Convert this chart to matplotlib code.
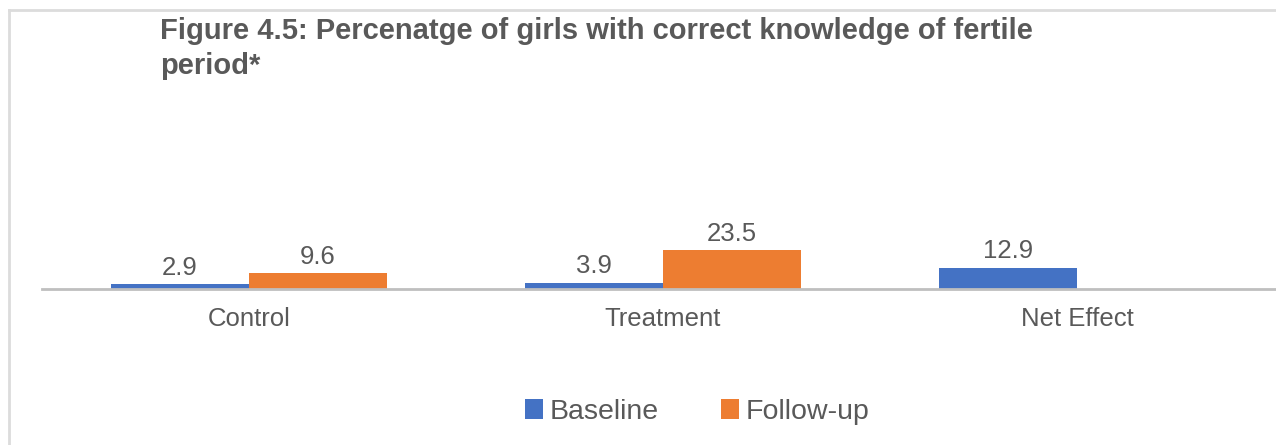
import matplotlib
matplotlib.use("Agg")
import matplotlib.pyplot as plt
import numpy as np
from matplotlib.lines import Line2D

categories = ["Control", "Treatment", "Net Effect"]
baseline = [2.9, 3.9, 12.9]
followup = [9.6, 23.5, np.nan]
series_names = ["Baseline", "Follow-up"]
title = "Figure 4.5: Percenatge of girls with correct knowledge of fertile\nperiod*"

BLUE = "#4472C4"
ORANGE = "#ED7D31"
TXT = "#595959"

plt.rcParams['font.family'] = ['Liberation Sans', 'DejaVu Sans']

W, H = 1276, 445
fig = plt.figure(figsize=(W / 100, H / 100), dpi=100)
fig.patch.set_facecolor("white")

# outer frame (top and left edges visible)
fig.add_artist(Line2D([9 / W, 9 / W], [0, 1 - 10 / H], transform=fig.transFigure,
                      color="#dcdcdc", lw=2))
fig.add_artist(Line2D([9 / W, 1], [1 - 10 / H, 1 - 10 / H], transform=fig.transFigure,
                      color="#dcdcdc", lw=2))

left_px, right_px = 42, W
bottom_px, top_px = 289, 100
ax = fig.add_axes([left_px / W, (H - bottom_px) / H, (right_px - left_px) / W,
                   (bottom_px - top_px) / H])
cat_px = 414
ax.set_xlim(-0.5, -0.5 + (right_px - left_px) / cat_px)
ax.set_ylim(0, (bottom_px - top_px) / 1.66)

x = np.arange(len(categories))
bw = 1 / 3
b1 = ax.bar(x - bw / 2, baseline, bw, color=BLUE, label=series_names[0], zorder=2)
b2 = ax.bar(x + bw / 2, followup, bw, color=ORANGE, label=series_names[1], zorder=2)

for xs, vals in [(x - bw / 2, baseline), (x + bw / 2, followup)]:
    for xi, v in zip(xs, vals):
        if np.isnan(v):
            continue
        ax.annotate(f"{v:.1f}", (xi, v), xytext=(0, 3), textcoords="offset points",
                    ha="center", va="bottom", fontsize=18.5, color=TXT)

for s in ["top", "right", "left"]:
    ax.spines[s].set_visible(False)
ax.spines["bottom"].set_color("#bfbfbf")
ax.spines["bottom"].set_linewidth(2)
ax.set_yticks([])
ax.set_xticks(x)
ax.set_xticklabels(categories, fontsize=18.5, color=TXT)
ax.tick_params(axis="x", length=0, pad=13)

fig.text(160 / W, 1 - 17 / H, title, ha="left", va="top", fontsize=21,
         fontweight="bold", color=TXT, linespacing=1.32)

leg = fig.legend(handles=[b1, b2], labels=series_names, loc="center",
                 bbox_to_anchor=(697 / W, 1 - 412 / H), ncol=2, frameon=False,
                 fontsize=20.5, handlelength=0.65, handleheight=0.65,
                 handletextpad=0.2, columnspacing=2.2)
for t in leg.get_texts():
    t.set_color(TXT)

fig.savefig("out.png", dpi=100, facecolor="white")
